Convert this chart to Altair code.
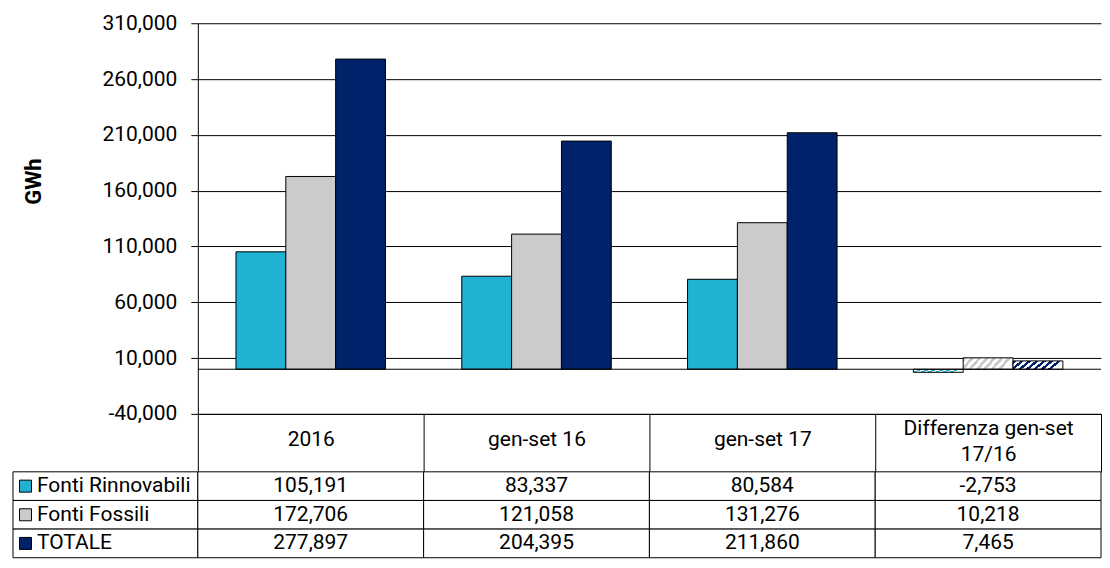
import altair as alt
import pandas as pd

# ---- data ----
categories = ["2016", "gen-set 16", "gen-set 17", "Differenza gen-set 17/16"]
series = ["Fonti Rinnovabili", "Fonti Fossili", "TOTALE"]
rinnovabili = [105191, 83337, 80584, -2753]
fossili = [172706, 121058, 131276, 10218]
totale = [277897, 204395, 211860, 7465]
y_ticks = [-40000, 10000, 60000, 110000, 160000, 210000, 260000, 310000]
colors = ["#1FB2D2", "#CBCBCB", "#00226A"]

FONT = "Roboto"
FS = 21
PLOT_W = 904
PLOT_H = 391
HEADER_H = 58
TABLE_H = 86
LEFT_W = 185
diff_cat = categories[-1]

rows = []
for s, vals in zip(series, [rinnovabili, fossili, totale]):
    for c, v in zip(categories, vals):
        rows.append({"cat": c, "serie": s, "value": v})
df = pd.DataFrame(rows)


def stripes(color, n=7):
    stops = []
    for i in range(n):
        a, m, b = i / n, (i + 0.5) / n, (i + 1) / n
        stops += [
            {"offset": a, "color": color},
            {"offset": m, "color": color},
            {"offset": m, "color": "white"},
            {"offset": b, "color": "white"},
        ]
    return {"gradient": "linear", "x1": 0, "y1": 0, "x2": 1, "y2": 0.2, "stops": stops}


color_scale = alt.Scale(domain=series, range=colors)
minus_fix = "replace(format(datum.value, ','), '\u2212', '-')"

x_enc = alt.X(
    "cat:N",
    sort=categories,
    scale=alt.Scale(domain=categories, paddingInner=0, paddingOuter=0),
    axis=alt.Axis(
        title=None,
        labelAngle=0,
        labelExpr="datum.label === 'Differenza gen-set 17/16' ? ['Differenza gen-set', '17/16'] : datum.label",
        labelFontSize=FS,
        labelFont=FONT,
        labelColor="black",
        labelLineHeight=26,
        labelBaseline="middle",
        labelPadding={
            "condition": {"test": "datum.value === 'Differenza gen-set 17/16'", "value": -43},
            "value": -32,
        },
        tickBand="extent",
        tickSize=HEADER_H,
        tickColor="black",
        domainColor="black",
        grid=False,
    ),
)
y_enc = alt.Y(
    "value:Q",
    scale=alt.Scale(domain=[-40000, 310000], nice=False, zero=False),
    axis=alt.Axis(
        values=y_ticks,
        title="GWh",
        titleFont=FONT,
        titleFontSize=22,
        titleFontWeight="bold",
        titleColor="black",
        titleAngle=270,
        titleX=-164,
        titleY=158,
        titleAlign="center",
        titleBaseline="middle",
        labelExpr=minus_fix,
        labelFontSize=FS,
        labelFont=FONT,
        labelColor="black",
        labelPadding=14,
        tickSize=7,
        tickColor="black",
        domainColor="black",
        grid=True,
        gridColor="black",
        gridOpacity=1,
    ),
)
xoff = alt.XOffset(
    "serie:N", sort=series, scale=alt.Scale(domain=series, paddingInner=0, paddingOuter=0.765)
)

main = (
    alt.Chart(df)
    .transform_filter(alt.datum.cat != diff_cat)
    .mark_bar(stroke="black", strokeWidth=1)
    .encode(
        x=x_enc,
        xOffset=xoff,
        y=y_enc,
        y2=alt.datum(0),
        color=alt.Color("serie:N", scale=color_scale, legend=None),
    )
)

fill_diff = (
    alt.when(alt.datum.serie == series[0])
    .then(alt.value(stripes(colors[0])))
    .when(alt.datum.serie == series[1])
    .then(alt.value(stripes(colors[1])))
    .otherwise(alt.value(stripes(colors[2])))
)
diff = (
    alt.Chart(df)
    .transform_filter(alt.datum.cat == diff_cat)
    .mark_bar(stroke="black", strokeWidth=1)
    .encode(x=x_enc, xOffset=xoff, y=y_enc, y2=alt.datum(0), fill=fill_diff)
)

zero_rule = (
    alt.Chart(pd.DataFrame({"v": [0]}))
    .mark_rule(color="black", strokeWidth=1)
    .encode(y=alt.Y("v:Q"))
)

bars = alt.layer(main, diff, zero_rule).properties(width=PLOT_W, height=PLOT_H)

spacer = (
    alt.Chart(pd.DataFrame({"a": [0]}))
    .mark_point(opacity=0)
    .encode(x=alt.value(90), y=alt.value(200))
    .properties(width=LEFT_W, height=PLOT_H)
)

# ---- data table under the chart ----
tbase = alt.Chart(df).encode(
    x=alt.X("cat:N", sort=categories, scale=alt.Scale(domain=categories, paddingInner=0, paddingOuter=0), axis=None),
    y=alt.Y("serie:N", sort=series, scale=alt.Scale(domain=series, paddingInner=0, paddingOuter=0), axis=None),
)
cells = tbase.mark_rect(fill="white", stroke="black", strokeWidth=1)
texts = (
    tbase.transform_calculate(label=minus_fix)
    .mark_text(font=FONT, fontSize=FS, color="black")
    .encode(text="label:N")
)
table = alt.layer(cells, texts).properties(width=PLOT_W, height=TABLE_H)

ldf = pd.DataFrame({"serie": series})
lbase = alt.Chart(ldf).encode(
    y=alt.Y("serie:N", sort=series, scale=alt.Scale(domain=series, paddingInner=0, paddingOuter=0), axis=None)
)
lcells = lbase.mark_rect(fill="white", stroke="black", strokeWidth=1).encode(
    x=alt.value(0), x2=alt.value(LEFT_W)
)
lsw = lbase.mark_square(size=144, stroke="black", strokeWidth=1, opacity=1, filled=True).encode(
    x=alt.value(12.5), color=alt.Color("serie:N", scale=color_scale, legend=None)
)
ltxt = lbase.mark_text(align="left", font=FONT, fontSize=FS, color="black").encode(
    x=alt.value(24), text="serie:N"
)
leftcol = alt.layer(lcells, lsw, ltxt).properties(width=LEFT_W, height=TABLE_H)

chart = (
    alt.concat(spacer, bars, leftcol, table, columns=2, spacing={"row": HEADER_H, "column": 0}, bounds="flush")
    .properties(padding={"left": 4, "top": 4, "right": 0, "bottom": 0}, background="white")
    .configure(font=FONT)
    .configure_view(stroke="transparent", strokeWidth=0)
)

chart.save("out.html", embed_options={"renderer": "svg", "actions": False})
